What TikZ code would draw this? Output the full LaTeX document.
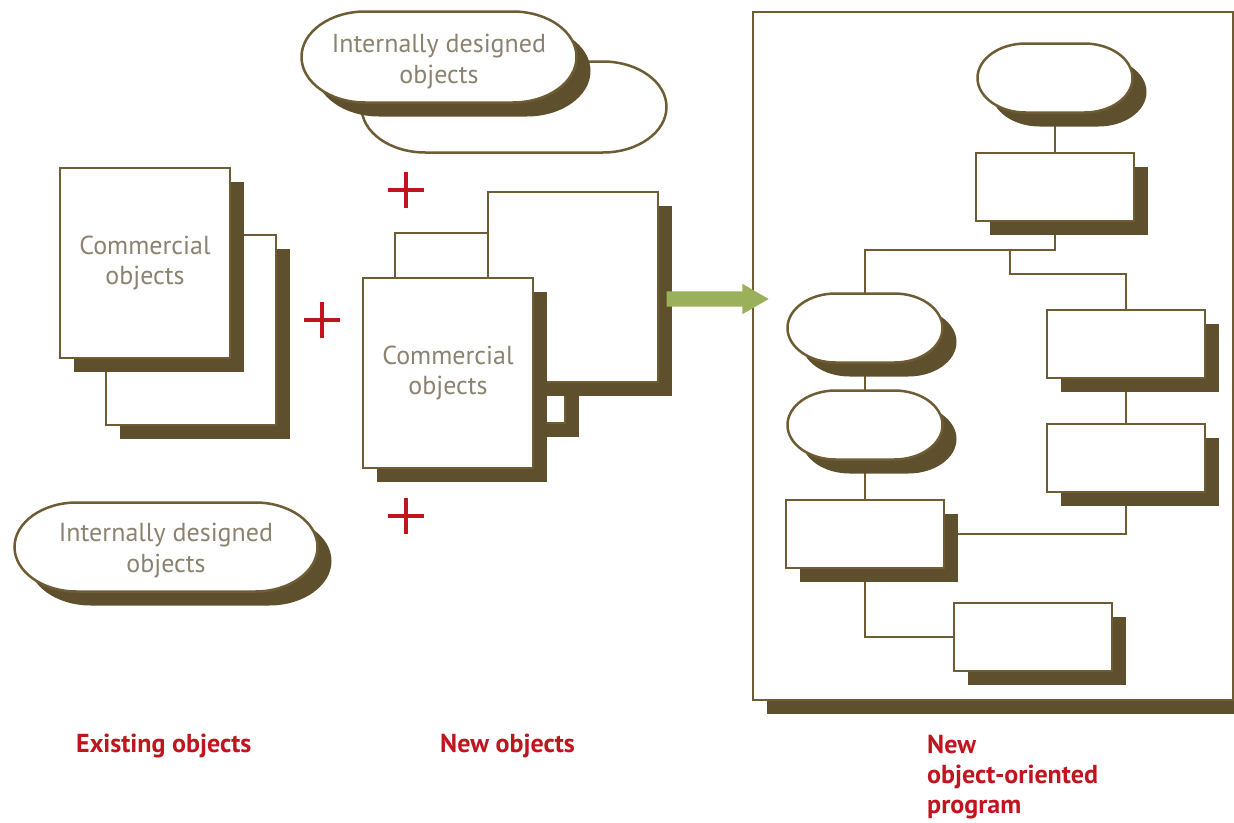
\documentclass[tikz,border=0pt]{standalone}
\usepackage{fontspec}
\setmainfont{PT Sans}
\usetikzlibrary{shadows,shapes.arrows,backgrounds}

\definecolor{rim}{HTML}{6E5C35}
\definecolor{shadowbrown}{HTML}{5F502D}
\definecolor{ink}{HTML}{8C8270}
\definecolor{signred}{HTML}{C0141E}
\definecolor{leaf}{HTML}{9BB05A}

\makeatletter
% oval with flat top and bottom
\pgfdeclareshape{capsule}{
  \inheritsavedanchors[from=rectangle]
  \inheritanchorborder[from=rectangle]
  \inheritanchor[from=rectangle]{center}
  \inheritanchor[from=rectangle]{north}
  \inheritanchor[from=rectangle]{south}
  \inheritanchor[from=rectangle]{east}
  \inheritanchor[from=rectangle]{west}
  \backgroundpath{%
    \southwest \edef\capxa{\the\pgf@x}\edef\capya{\the\pgf@y}%
    \northeast \edef\capxb{\the\pgf@x}\edef\capyb{\the\pgf@y}%
    \pgfmathsetmacro\capry{(\capyb-\capya)/2}%
    \pgfmathsetmacro\caprx{1.4*\capry}%
    \pgfpathmoveto{\pgfpoint{\capxa}{\capya+\capry pt}}%
    \pgfpatharc{180}{90}{\caprx pt and \capry pt}%
    \pgfpathlineto{\pgfpoint{\capxb-\caprx pt}{\capyb}}%
    \pgfpatharc{90}{0}{\caprx pt and \capry pt}%
    \pgfpatharc{0}{-90}{\caprx pt and \capry pt}%
    \pgfpathlineto{\pgfpoint{\capxa+\caprx pt}{\capya}}%
    \pgfpatharc{270}{180}{\caprx pt and \capry pt}%
    \pgfpathclose
  }
}
\makeatother

\tikzset{
  obj/.style={draw=rim, fill=white, line width=2.5pt, inner sep=0pt, outer sep=0pt,
    align=center, text=ink, font=\fontsize{26}{30}\selectfont},
  dropped/.style={drop shadow={shadow xshift=14pt, shadow yshift=-14pt, fill=shadowbrown, opacity=1}},
  page/.style={obj, dropped, minimum width=170pt, minimum height=190pt},
  oval/.style={obj, shape=capsule, minimum height=91pt},
  stepbox/.style={obj, dropped, minimum width=158pt, minimum height=68pt},
  stepoval/.style={obj, dropped, shape=capsule, minimum width=155pt, minimum height=69pt},
  wire/.style={draw=rim, line width=2pt},
  plussign/.style={draw=signred, line width=4pt},
  caption/.style={text=signred, font=\bfseries\fontsize{26}{30}\selectfont, inner sep=0pt, align=left}
}

\begin{document}
\begin{tikzpicture}[x=1pt,y=-1pt]
\useasboundingbox (0,0) rectangle (1234,822);

% existing objects
\node[page] (lback) at (191,330) {};
\node[page] (lfront) at (145,263) {Commercial\\objects};
\node[oval, dropped, minimum width=303pt, minimum height=89pt] (lint) at (166,547) {\rule{0pt}{26pt}Internally designed\\[1pt]objects};

% new objects
\node[oval, minimum width=305pt] (tback) at (514,107) {};
\node[oval, dropped, minimum width=275pt] (tfront) at (439,57) {\rule{0pt}{28pt}Internally designed\\[1pt]objects};
\node[page] (nback) at (480,328) {};
\node[page] (nbig) at (573,287) {};
\node[page] (nfront) at (448,373) {Commercial\\objects};

\foreach \p in {(322,320),(406,190),(406,516)}
  \draw[plussign] \p +(-18,0) -- +(18,0) \p +(0,-18) -- +(0,18);

\node[single arrow, fill=leaf, inner xsep=0pt, inner ysep=7.5pt, minimum height=102pt,
  single arrow head extend=7.5pt, single arrow tip angle=60] (go) at (711,299) {};

% new program
\node[stepoval] (e1) at (1055,78) {};
\node[stepbox] (r1) at (1055,187) {};
\node[stepoval] (e2) at (865,328) {};
\node[stepoval] (e3) at (865,425) {};
\node[stepbox] (r3) at (865,534) {};
\node[stepbox] (r2) at (1126,344) {};
\node[stepbox] (r4) at (1126,458) {};
\node[stepbox] (r5) at (1033,637) {};
\coordinate (fork) at (1010,250);
\coordinate (bend) at (1010,274);

\begin{scope}[on background layer]
\node[obj, dropped, line width=2pt, minimum width=480pt, minimum height=688pt] (prog) at (993,356) {};
\draw[wire] (e1) -- (r1);
\draw[wire] (r1.south) -- (r1.south |- fork) -| (e2.north);
\draw[wire] (fork) -- (bend) -| (r2.north);
\draw[wire] (e2) -- (e3);
\draw[wire] (e3) -- (r3);
\draw[wire] (r2) -- (r4);
\draw[wire] (r4.south) |- (r3.east);
\draw[wire] (r3.south) |- (r5.west);
\end{scope}

\node[caption, anchor=base west] (cold) at (76,752) {Existing objects};
\node[caption, anchor=base west] (cnew) at (440,752) {New objects};
\node[caption, anchor=north west] (cprog) at (927,735) {New\\object-oriented\\program};
\end{tikzpicture}
\end{document}
